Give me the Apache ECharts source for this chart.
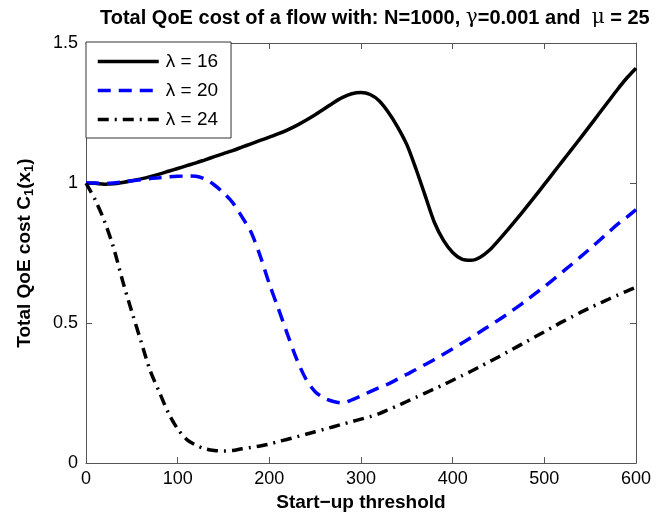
<!DOCTYPE html>
<html>
<head>
<meta charset="utf-8">
<script src="https://cdn.jsdelivr.net/npm/echarts@6/dist/echarts.min.js"></script>
<style>html,body{margin:0;padding:0;background:#fff;}#c{width:666px;height:517px;}</style>
</head>
<body>
<div id="c"></div>
<script>
// Start-up threshold values (x)
var xValues = [0,10,20,30,40,50,60,70,80,90,100,110,120,130,140,150,160,170,180,190,200,210,220,230,240,250,260,270,280,290,300,310,320,330,340,350,360,370,380,390,400,410,420,430,440,450,460,470,480,490,500,510,520,530,540,550,560,570,580,590,600];
var seriesNames = ['λ = 16', 'λ = 20', 'λ = 24'];
var cost16 = [1.000,0.999,0.996,0.997,1.002,1.008,1.015,1.023,1.032,1.042,1.052,1.062,1.072,1.083,1.094,1.105,1.116,1.128,1.140,1.152,1.164,1.176,1.190,1.206,1.224,1.244,1.265,1.287,1.306,1.319,1.323,1.316,1.293,1.252,1.200,1.137,1.050,0.955,0.860,0.795,0.752,0.728,0.724,0.735,0.760,0.795,0.833,0.872,0.912,0.953,0.995,1.037,1.079,1.121,1.163,1.206,1.249,1.292,1.335,1.375,1.410];
var cost20 = [1.000,1.000,0.998,1.000,1.004,1.008,1.012,1.016,1.019,1.022,1.024,1.025,1.024,1.014,0.993,0.965,0.930,0.880,0.825,0.740,0.640,0.550,0.458,0.370,0.300,0.255,0.232,0.220,0.215,0.226,0.240,0.255,0.270,0.283,0.300,0.317,0.334,0.352,0.370,0.389,0.408,0.428,0.448,0.469,0.490,0.511,0.533,0.556,0.580,0.605,0.630,0.656,0.683,0.710,0.738,0.766,0.795,0.824,0.853,0.878,0.905];
var cost24 = [1.000,0.940,0.865,0.770,0.650,0.540,0.435,0.330,0.254,0.178,0.122,0.084,0.064,0.051,0.045,0.043,0.045,0.051,0.056,0.061,0.068,0.077,0.085,0.094,0.103,0.112,0.121,0.130,0.139,0.148,0.157,0.166,0.177,0.191,0.205,0.220,0.235,0.250,0.265,0.280,0.296,0.312,0.328,0.345,0.362,0.379,0.397,0.415,0.433,0.451,0.469,0.487,0.505,0.522,0.539,0.555,0.570,0.585,0.600,0.614,0.628];
var xTicks = [0,100,200,300,400,500,600];
var yTicks = [0,0.5,1,1.5];

function pairs(ys){ return xValues.map(function(x,i){ return [x, ys[i]]; }); }

var chart = echarts.init(document.getElementById('c'), null, {renderer:'canvas'});
var FONT = 'Liberation Sans, Arial, Helvetica, sans-serif';
var axisCol = '#555';
var option = {
  backgroundColor: '#fff',
  animation: false,
  textStyle: {fontFamily: FONT},
  title: {
    left: 95, top: 3,
    text: '{b|Total QoE cost of a flow with: N=1000, }{g|γ}{b|=0.001 and  }{g|μ}{b| = 25}',
    textStyle: {
      rich: {
        b: {fontFamily: FONT, fontWeight: 'bold', fontSize: 20, color: '#000'},
        g: {fontFamily: 'DejaVu Serif, serif', fontWeight: 'normal', fontSize: 20, color: '#000'}
      }
    }
  },
  legend: {
    left: 86, top: 42, orient: 'vertical',
    padding: [10, 13, 9, 10],
    itemWidth: 61, itemHeight: 14, itemGap: 10,
    borderColor: '#333', borderWidth: 1,
    backgroundColor: '#fff',
    itemStyle: {opacity: 0},
    lineStyle: {width: 3.5},
    textStyle: {fontSize: 19, color: '#000', fontFamily: FONT, padding: [0,0,0,2]},
    data: seriesNames
  },
  grid: {left: 86, right: 30, top: 43, bottom: 50, containLabel: false},
  xAxis: [{
    type: 'value', min: 0, max: 600, interval: 100,
    name: 'Start−up threshold', nameLocation: 'middle', nameGap: 29,
    nameTextStyle: {fontSize: 19, fontWeight: 'bold', color: '#000', fontFamily: FONT},
    axisLine: {show: true, lineStyle: {color: axisCol, width: 1}},
    axisTick: {show: true, inside: true, length: 6, lineStyle: {color: axisCol}},
    axisLabel: {fontSize: 18, color: '#000', margin: 7, fontFamily: FONT,
      formatter: function(v){ return xTicks.indexOf(v) >= 0 ? String(v) : ''; }},
    splitLine: {show: false}
  },{
    type: 'value', min: 0, max: 600, interval: 100, position: 'top',
    axisLine: {show: true, onZero: false, lineStyle: {color: axisCol, width: 1}},
    axisTick: {show: true, inside: true, length: 6, lineStyle: {color: axisCol}},
    axisLabel: {show: false}, splitLine: {show: false}
  }],
  yAxis: [{
    type: 'value', min: 0, max: 1.5, interval: 0.5,
    name: '{a|Total QoE cost C}{s|1}{a|(x}{s|1}{a|)}',
    nameLocation: 'middle', nameGap: 50,
    nameTextStyle: {
      rich: {
        a: {fontSize: 19, fontWeight: 'bold', color: '#000', fontFamily: FONT},
        s: {fontSize: 13, fontWeight: 'bold', color: '#000', fontFamily: FONT, padding: [9,0,0,0]}
      }
    },
    axisLine: {show: true, lineStyle: {color: axisCol, width: 1}},
    axisTick: {show: true, inside: true, length: 6, lineStyle: {color: axisCol}},
    axisLabel: {fontSize: 18, color: '#000', margin: 8, fontFamily: FONT,
      formatter: function(v){ return yTicks.indexOf(v) >= 0 ? String(v) : ''; }},
    splitLine: {show: false}
  },{
    type: 'value', min: 0, max: 1.5, interval: 0.5, position: 'right',
    axisLine: {show: true, onZero: false, lineStyle: {color: axisCol, width: 1}},
    axisTick: {show: true, inside: true, length: 6, lineStyle: {color: axisCol}},
    axisLabel: {show: false}, splitLine: {show: false}
  }],
  series: [
    {name: seriesNames[0], type: 'line', data: pairs(cost16), smooth: 0.3, symbol: 'none', showSymbol: false,
     lineStyle: {color: '#000', width: 3.5, type: 'solid'}, itemStyle: {color: '#000'}},
    {name: seriesNames[1], type: 'line', data: pairs(cost20), smooth: 0.3, symbol: 'none', showSymbol: false,
     lineStyle: {color: '#0000ff', width: 3.5, type: [13, 8]}, itemStyle: {color: '#0000ff'}},
    {name: seriesNames[2], type: 'line', data: pairs(cost24), smooth: 0.3, symbol: 'none', showSymbol: false,
     lineStyle: {color: '#000', width: 3.5, type: [11, 6, 2, 6]}, itemStyle: {color: '#000'}}
  ]
};
chart.setOption(option);
</script>
</body>
</html>
